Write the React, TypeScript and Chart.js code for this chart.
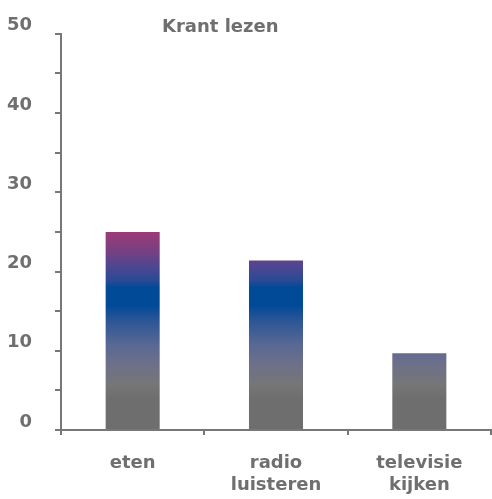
import React, { useEffect, useRef } from "react";
import { Chart, registerables } from "chart.js";

Chart.register(...registerables);

const categories: (string | string[])[] = ["eten", ["radio", "luisteren"], ["televisie", "kijken"]];
const values: number[] = [25, 21.4, 9.7];
const chartTitle = "Krant lezen";
const yMin = 0;
const yMax = 50;
const yStep = 5;
const yLabelEvery = 10;

// gradient stops (value on the y scale → colour)
const gradientValues: number[] = [0, 4, 5.7, 8.2, 10.7, 13.9, 15.7, 18, 18.9, 20.8, 22.7, 25];
const gradientColors: string[] = [
  "#6e6e6e",
  "#6e6e6e",
  "#767678",
  "#6e7088",
  "#5a6894",
  "#2a5596",
  "#004a98",
  "#004a98",
  "#2a4a94",
  "#524690",
  "#7a3f80",
  "#9c3a78",
];

const TEXT = "#6f6f6f";
const AXIS = "#777777";
const FONT = "'DejaVu Sans'";

export default function App() {
  const ref = useRef<HTMLCanvasElement | null>(null);

  useEffect(() => {
    if (!ref.current) return;
    let chart: any = null;
    let cancelled = false;
    const titlePlugin = {
      id: "titleText",
      afterDraw(ch: any) {
        const { ctx, chartArea } = ch;
        ctx.save();
        ctx.font = `bold 18px ${FONT}`;
        ctx.fillStyle = TEXT;
        ctx.textAlign = "left";
        ctx.textBaseline = "alphabetic";
        ctx.fillText(chartTitle, chartArea.left + 101, 32);
        ctx.restore();
      },
    };

    const build = () => {
      if (cancelled || !ref.current) return;
      chart = new Chart(ref.current, {
        type: "bar",
        data: {
          labels: categories,
          datasets: [
            {
              data: values,
              backgroundColor: (c: any) => {
                const ch = c.chart;
                const y = ch.scales?.y;
                if (!ch.chartArea || !y) return gradientColors[0];
                const vMax = gradientValues[gradientValues.length - 1];
                const g = ch.ctx.createLinearGradient(0, y.getPixelForValue(0), 0, y.getPixelForValue(vMax));
                gradientValues.forEach((v, i) => g.addColorStop(v / vMax, gradientColors[i]));
                return g;
              },
              borderWidth: 0,
              categoryPercentage: 1,
              barPercentage: 0.377,
            },
          ],
        },
        options: {
          responsive: false,
          animation: false,
          devicePixelRatio: 1,
          layout: { padding: { top: 33, right: 1, left: 0, bottom: 0 } },
          plugins: {
            legend: { display: false },
            title: { display: false },
            tooltip: { enabled: false },
          },
          scales: {
            x: {
              grid: {
                display: true,
                offset: true,
                drawOnChartArea: false,
                drawTicks: true,
                tickLength: 5,
                color: AXIS,
                lineWidth: 2,
              },
              border: { display: true, color: AXIS, width: 2 },
              ticks: {
                color: TEXT,
                font: { family: FONT, size: 18, weight: "bold" },
                padding: 18,
                maxRotation: 0,
                autoSkip: false,
              },
              afterFit(scale: any) {
                scale.height = 69;
              },
            },
            y: {
              min: yMin,
              max: yMax,
              grid: {
                display: true,
                drawOnChartArea: false,
                drawTicks: true,
                tickLength: 6,
                color: AXIS,
                lineWidth: 2,
              },
              border: { display: true, color: AXIS, width: 2 },
              ticks: {
                stepSize: yStep,
                color: TEXT,
                font: { family: FONT, size: 18, weight: "bold" },
                padding: 23,
                labelOffset: -8,
                callback: (v: any) => (Number(v) % yLabelEvery === 0 ? String(v) : ""),
              },
              afterFit(scale: any) {
                scale.width = 61;
              },
            },
          },
        },
        plugins: [titlePlugin],
      });
    };

    const fonts: any = (document as any).fonts;
    if (fonts && fonts.load) {
      fonts
        .load(`bold 18px ${FONT}`, "Krant lezen 0123456789")
        .then(build, build);
    } else {
      build();
    }
    return () => {
      cancelled = true;
      if (chart) chart.destroy();
    };
  }, []);

  return (
    <div style={{ position: "absolute", left: 0, top: 0, width: 492, height: 499, background: "#fff" }}>
      <span style={{ fontFamily: "DejaVu Sans", fontWeight: "bold", position: "absolute", left: -9999, top: 0 }}>Krant</span>
      <canvas ref={ref} width={492} height={499} style={{ display: "block" }} />
    </div>
  );
}
